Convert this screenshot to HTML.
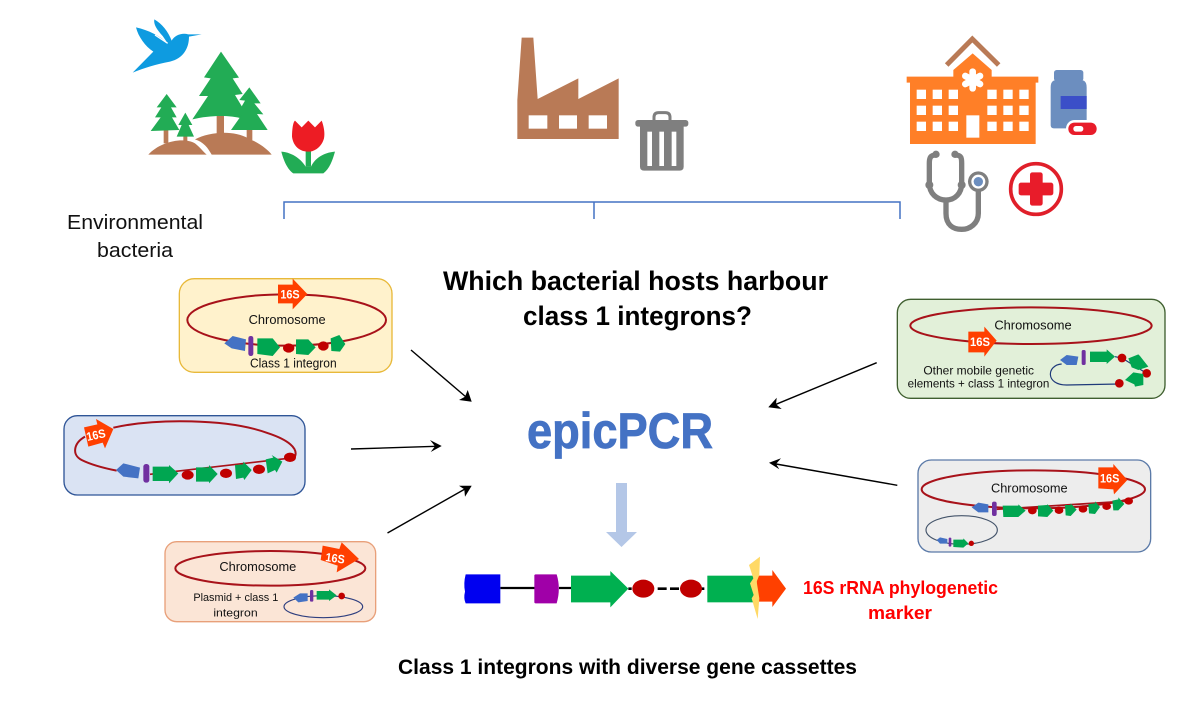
<!DOCTYPE html>
<html><head><meta charset="utf-8"><style>
html,body{margin:0;padding:0;background:#fff}
svg{display:block}
text{font-family:"Liberation Sans",sans-serif}
.c{font-size:38px;fill:#111}
.s{font-size:36px;font-weight:bold;fill:#fff}
.b{fill:#4472C4}.p{fill:#7030A0}.g{fill:#00A651}.r{fill:#C00000}.o{fill:#FF3F00}
.l{fill:none;stroke:#A8121A;stroke-width:6}
</style></head><body>
<svg width="1200" height="705" viewBox="0 0 1200 705" xmlns="http://www.w3.org/2000/svg">
<rect width="1200" height="705" fill="#fff"/>

<!-- nature -->
<g transform="translate(120,10) scale(.33333)">
<path fill="#0E9BE0" d="M38,188 L100,125 C75,108 55,80 48,52 C85,60 120,78 143,100 L128,78 C110,58 100,42 103,28 C125,40 145,65 155,92 C165,75 185,68 205,73 L245,73 L207,80 C207,115 190,145 150,155 C110,162 70,175 38,188 Z"/>
<path fill="none" stroke="#fff" stroke-width="4" d="M105,75 L143,100"/>
<g fill="#B97A56">
<rect x="290" y="315" width="22" height="60"/><rect x="380" y="355" width="17" height="35"/><rect x="131" y="358" width="14" height="42"/><rect x="190" y="376" width="12" height="18"/>
<path d="M85,434 C120,395 190,380 225,400 C240,412 250,425 260,434Z"/>
<path d="M225,388 C270,365 340,360 385,385 C420,400 445,420 455,434 L275,434 C265,415 250,395 225,388Z"/>
</g>
<g fill="#22AC55">
<path d="M303,125 L252,202 L272,205 L237,258 L264,258 L217,328 C270,315 330,315 365,325 L372,300 L345,255 L368,252 L338,205 L357,203Z"/>
<path d="M388,232 L358,270 L375,272 L352,312 L367,312 L333,360 L443,360 L411,312 L430,313 L403,280 L422,280Z"/>
<path d="M140,252 L110,292 L124,292 L105,322 L122,322 L92,363 L178,360 L156,322 L170,322 L153,292 L170,292Z"/>
<path d="M196,308 L175,345 L185,345 L170,380 L222,380 L206,345 L217,345Z"/>
<rect x="557" y="420" width="16" height="50"/>
<path d="M484,425 C520,428 545,450 557,470 L573,470 C585,445 610,428 645,425 C638,450 628,478 610,490 L520,490 C503,480 490,450 484,425Z"/>
</g>
<path fill="#ED1C24" d="M516,380 C516,355 520,335 525,332 L545,352 L565,332 L585,352 L605,332 C612,350 615,370 612,385 C605,410 585,425 565,425 C540,425 520,410 516,380Z"/>
</g>

<!-- factory -->
<g transform="translate(505,30) scale(.33333)">
<path fill="#B97A56" d="M37,327 L37,210 L50,23 L85,23 L98,207 L220,145 L220,207 L341,145 L341,327Z"/>
<g fill="#fff"><rect x="71" y="256" width="56" height="40"/><rect x="162" y="256" width="54" height="40"/><rect x="251" y="256" width="55" height="40"/></g>
<g fill="#7F7F7F">
<path fill="none" stroke="#7F7F7F" stroke-width="9" d="M447,272 L447,262 Q447,248 461,248 L481,248 Q495,248 495,262 L495,272"/>
<rect x="391" y="270" width="159" height="20" rx="8"/>
<path d="M405,288 H536 V410 Q536,422 524,422 H417 Q405,422 405,410Z"/>
</g>
<g fill="#fff"><rect x="427" y="305" width="14" height="103"/><rect x="463" y="305" width="14" height="103"/><rect x="500" y="305" width="14" height="103"/></g>
</g>

<!-- hospital -->
<g transform="translate(890,30) scale(.33333)">
<path fill="none" stroke="#B97A56" stroke-width="15" d="M170,105 L247,27 L326,105"/>
<path fill="#FF7F27" d="M60,342 V158 H50 V140 H190 V120 L248,70 L305,120 V140 H445 V158 H437 V342Z"/>
<g stroke="#fff" stroke-width="20" stroke-linecap="round"><path d="M248,125 V175"/><path d="M226,138 L270,162"/><path d="M270,138 L226,162"/></g>
<g fill="#fff">
<rect x="80" y="179" width="28" height="28"/><rect x="128" y="179" width="28" height="28"/><rect x="176" y="179" width="28" height="28"/><rect x="292" y="179" width="28" height="28"/><rect x="340" y="179" width="28" height="28"/><rect x="388" y="179" width="28" height="28"/>
<rect x="80" y="227" width="28" height="28"/><rect x="128" y="227" width="28" height="28"/><rect x="176" y="227" width="28" height="28"/><rect x="292" y="227" width="28" height="28"/><rect x="340" y="227" width="28" height="28"/><rect x="388" y="227" width="28" height="28"/>
<rect x="80" y="275" width="28" height="28"/><rect x="128" y="275" width="28" height="28"/><rect x="176" y="275" width="28" height="28"/><rect x="292" y="275" width="28" height="28"/><rect x="340" y="275" width="28" height="28"/><rect x="388" y="275" width="28" height="28"/>
<rect x="229" y="256" width="39" height="67"/>
</g>
<rect x="492" y="120" width="88" height="34" rx="8" fill="#6C8EBF"/>
<path fill="#6C8EBF" d="M482,172 Q482,150 500,150 H572 Q590,150 590,172 V295 H492 Q482,295 482,285Z"/>
<rect x="512" y="198" width="78" height="39" fill="#3B4FC8"/>
<rect x="528" y="270" width="100" height="53" rx="26" fill="#fff"/>
<rect x="535" y="278" width="85" height="37" rx="18" fill="#E81C2A"/>
<rect x="550" y="288" width="30" height="17" rx="8" fill="#fff"/>
<g fill="none" stroke="#7F7F7F" stroke-width="16">
<path d="M138,375 C120,375 118,385 118,400 L118,460 C118,490 140,510 168,510 C195,510 215,490 215,460 L215,400 C215,385 215,375 195,375"/>
<path d="M168,510 V550 C168,585 190,598 215,598 C240,598 265,580 265,550 V480"/>
</g>
<g fill="#7F7F7F"><circle cx="138" cy="373" r="11"/><circle cx="195" cy="373" r="11"/><circle cx="118" cy="465" r="12"/><circle cx="215" cy="465" r="12"/><circle cx="265" cy="455" r="31"/></g>
<circle cx="265" cy="455" r="21" fill="#fff"/><circle cx="265" cy="455" r="14" fill="#6C8EBF"/>
<circle cx="438" cy="477" r="76" fill="#fff" stroke="#E01F2A" stroke-width="11"/>
<g fill="#E81C2A"><rect x="420" y="427" width="38" height="100" rx="7"/><rect x="386" y="458" width="104" height="38" rx="7"/></g>
</g>

<!-- bracket -->
<path fill="none" stroke="#4472C4" stroke-width="1.5" d="M284,219 V202 H900 V219 M594,202 V219"/>

<!-- main text -->
<text x="67" y="229" font-size="20" fill="#111" textLength="136" lengthAdjust="spacingAndGlyphs">Environmental</text>
<text x="97" y="257" font-size="20" fill="#111" textLength="76" lengthAdjust="spacingAndGlyphs">bacteria</text>
<text x="443" y="290" font-size="27" font-weight="bold" fill="#000" textLength="385" lengthAdjust="spacingAndGlyphs">Which bacterial hosts harbour</text>
<text x="523" y="325" font-size="27" font-weight="bold" fill="#000" textLength="229" lengthAdjust="spacingAndGlyphs">class 1 integrons?</text>
<text x="527" y="448" font-size="50" font-weight="bold" fill="#4472C4" stroke="#4472C4" stroke-width=".8" textLength="186" lengthAdjust="spacingAndGlyphs">epicPCR</text>
<text x="803" y="594" font-size="18" font-weight="bold" fill="#FF0000" textLength="195" lengthAdjust="spacingAndGlyphs">16S rRNA phylogenetic</text>
<text x="868" y="619" font-size="18" font-weight="bold" fill="#FF0000" textLength="64" lengthAdjust="spacingAndGlyphs">marker</text>
<text x="398" y="674" font-size="21" font-weight="bold" fill="#000" textLength="459" lengthAdjust="spacingAndGlyphs">Class 1 integrons with diverse gene cassettes</text>

<!-- arrows -->
<g stroke="#000" stroke-width="1.4" fill="none">
<path d="M411,350 L466,397"/><path d="M351,449 L436,446.3"/><path d="M387.5,533 L465,489"/><path d="M876.7,362.7 L776,404.3"/><path d="M897.3,485.3 L776,464"/>
</g>
<g fill="#000">
<path d="M471.7,401.7 L459,400 L465,396.7 L467.7,390Z"/>
<path d="M441.7,446 L430,440 L435,446.3 L430.7,452Z"/>
<path d="M471.7,485.7 L459,485.7 L464.3,489.3 L465,496.7Z"/>
<path d="M768.3,407.3 L776.7,397.7 L776,404.3 L781.7,409Z"/>
<path d="M769,462.7 L781,458.3 L776,464 L779.3,469.3Z"/>
</g>
<path fill="#B4C7E7" d="M616,483 H627 V532 H637 L621.5,547 L606,532 H616Z"/>

<!-- box 1 -->
<g transform="translate(170,270) scale(.33333)">
<rect x="28" y="26" width="638" height="281" rx="45" fill="#FFF2CC" stroke="#E8B93A" stroke-width="4"/>
<ellipse cx="350" cy="150" rx="298" ry="77" class="l"/>
<path class="o" d="M324,44 H368 V26 L412,72 L368,118 V100 H324Z"/>
<text x="331" y="85" class="s" textLength="58" lengthAdjust="spacingAndGlyphs">16S</text>
<text x="236" y="162" class="c" textLength="231" lengthAdjust="spacingAndGlyphs">Chromosome</text>
<path class="b" d="M163,220 L188,198 L228,208 L225,243 L185,235Z"/>
<rect x="235" y="198" width="15" height="60" rx="7" class="p"/>
<path class="g" d="M262,205 H308 L330,232 L308,258 L262,252Z"/>
<ellipse cx="356" cy="234" rx="17" ry="14" class="r"/>
<path class="g" d="M378,208 H415 L437,232 L415,255 L378,252Z"/>
<ellipse cx="460" cy="228" rx="16" ry="14" class="r"/>
<path class="g" d="M482,205 L508,195 L526,222 L510,245 L484,243Z"/>
<text x="240" y="292" class="c" textLength="260" lengthAdjust="spacingAndGlyphs">Class 1 integron</text>
</g>

<!-- box 2 -->
<g transform="translate(55,405) scale(.33333)">
<rect x="27" y="32" width="723" height="238" rx="40" fill="#DAE3F3" stroke="#2F5597" stroke-width="4"/>
<path class="l" d="M175,68 C300,40 520,40 640,85 C700,105 730,130 720,155"/>
<path class="l" d="M90,95 C55,115 50,150 80,165 C110,180 150,190 185,197"/>
<path d="M285,208 L700,160" stroke="#A8121A" stroke-width="5" fill="none"/>
<path class="o" d="M87,67 L127,58 L123,42 L175,72 L150,130 L143,113 L100,125Z"/>
<text x="0" y="0" class="s" transform="translate(97,108) rotate(-12)" textLength="58" lengthAdjust="spacingAndGlyphs">16S</text>
<path class="b" d="M183,195 L205,175 L255,188 L250,220 L205,215Z"/>
<rect x="265" y="177" width="18" height="56" rx="8" class="p"/>
<path class="g" d="M293,185 H342 V180 L370,205 L342,235 V228 H293Z"/>
<ellipse cx="398" cy="210" rx="18" ry="14" class="r"/>
<path class="g" d="M423,187 H462 V180 L488,207 L462,235 V230 H423Z"/>
<ellipse cx="513" cy="205" rx="18" ry="14" class="r"/>
<path class="g" d="M540,180 L565,178 V170 L590,195 L568,225 L565,218 L543,222Z"/>
<ellipse cx="612" cy="193" rx="18" ry="14" class="r"/>
<path class="g" d="M632,163 L655,158 L650,150 L682,170 L665,203 L660,195 L638,205Z"/>
<ellipse cx="705" cy="157" rx="18" ry="14" class="r"/>
</g>

<!-- box 3 -->
<g transform="translate(155,535) scale(.33333)">
<rect x="30" y="20" width="632" height="240" rx="35" fill="#FBE5D6" stroke="#E8A07A" stroke-width="4"/>
<ellipse cx="346" cy="100" rx="285" ry="52" class="l"/>
<path class="o" d="M503,32 L553,42 L560,22 L612,72 L545,112 L548,92 L497,75Z"/>
<text x="0" y="0" class="s" transform="translate(510,78) rotate(8)" textLength="58" lengthAdjust="spacingAndGlyphs">16S</text>
<text x="193" y="108" class="c" textLength="231" lengthAdjust="spacingAndGlyphs">Chromosome</text>
<text x="115" y="198" class="c" style="font-size:34px" textLength="255" lengthAdjust="spacingAndGlyphs">Plasmid + class 1</text>
<text x="175" y="245" class="c" style="font-size:34px" textLength="133" lengthAdjust="spacingAndGlyphs">integron</text>
<ellipse cx="505" cy="215" rx="118" ry="33" fill="none" stroke="#2F3F7F" stroke-width="3.5"/>
<path class="b" d="M415,188 L435,175 H458 V198 L430,202Z"/>
<rect x="465" y="165" width="10" height="35" rx="4" class="p"/>
<path class="g" d="M485,168 H522 V163 L545,181 L522,198 V194 H485Z"/>
<circle cx="560" cy="183" r="10" class="r"/>
</g>

<!-- box 4 -->
<g transform="translate(890,290) scale(.33333)">
<rect x="22" y="28" width="803" height="297" rx="40" fill="#E2F0D9" stroke="#3F5F2F" stroke-width="4"/>
<ellipse cx="423" cy="107" rx="362" ry="55" class="l"/>
<path class="o" d="M235,125 H283 V110 L320,152 L283,200 V187 H235Z"/>
<text x="240" y="168" class="s" textLength="60" lengthAdjust="spacingAndGlyphs">16S</text>
<text x="313" y="118" class="c" textLength="232" lengthAdjust="spacingAndGlyphs">Chromosome</text>
<text x="100" y="253" class="c" style="font-size:35px" textLength="332" lengthAdjust="spacingAndGlyphs">Other mobile genetic</text>
<text x="53" y="293" class="c" style="font-size:35px" textLength="425" lengthAdjust="spacingAndGlyphs">elements + class 1 integron</text>
<path fill="none" stroke="#1F3A7A" stroke-width="3.5" d="M515,222 C470,225 465,285 530,285 L688,282"/>
<path fill="none" stroke="#1F3A7A" stroke-width="3.5" d="M675,200 L696,204 L770,250"/>
<path class="b" d="M510,210 L530,195 L565,200 L560,225 L530,225Z"/>
<rect x="575" y="180" width="12" height="45" rx="5" class="p"/>
<path class="g" d="M600,185 H650 V178 L675,200 L650,222 V216 H600Z"/>
<circle cx="696" cy="204" r="13" class="r"/>
<path class="g" d="M715,205 L745,193 L750,198 L775,230 L745,240 L725,232Z"/>
<circle cx="770" cy="250" r="13" class="r"/>
<path class="g" d="M705,270 L730,247 L760,252 L760,285 L735,290 L733,283Z"/>
<circle cx="688" cy="280" r="13" class="r"/>
</g>

<!-- box 5 -->
<g transform="translate(910,455) scale(.33333)">
<rect x="24" y="15" width="698" height="276" rx="40" fill="#EDEDED" stroke="#5B7AA8" stroke-width="4"/>
<ellipse cx="370" cy="103" rx="335" ry="57" class="l"/>
<path d="M260,163 L656,138" stroke="#A8121A" stroke-width="5" fill="none"/>
<ellipse cx="155" cy="225" rx="107" ry="43" fill="none" stroke="#44546A" stroke-width="3.5"/>
<text x="243" y="112" class="c" textLength="230" lengthAdjust="spacingAndGlyphs">Chromosome</text>
<path class="o" d="M565,37 H610 V27 L652,75 L612,118 L610,103 L565,100Z"/>
<text x="570" y="83" class="s" textLength="58" lengthAdjust="spacingAndGlyphs">16S</text>
<path class="b" d="M185,157 L205,143 L235,148 V172 H205Z"/>
<rect x="246" y="140" width="14" height="43" rx="6" class="p"/>
<path class="g" d="M278,152 H325 V148 L347,167 L325,186 H280Z"/>
<ellipse cx="367" cy="167" rx="13" ry="11" class="r"/>
<path class="g" d="M384,152 L412,150 V147 L430,167 L412,186 L384,184Z"/>
<ellipse cx="447" cy="166" rx="13" ry="11" class="r"/>
<path class="g" d="M465,150 H482 V145 L500,164 L482,183 L467,181Z"/>
<ellipse cx="519" cy="162" rx="13" ry="11" class="r"/>
<path class="g" d="M535,147 L555,145 V139 L570,156 L555,177 L537,175Z"/>
<ellipse cx="590" cy="154" rx="13" ry="11" class="r"/>
<path class="g" d="M607,137 L625,133 V127 L643,147 L625,166 L610,166Z"/>
<ellipse cx="656" cy="138" rx="13" ry="11" class="r"/>
<path class="b" d="M80,255 L90,247 L112,252 V266 H90Z"/>
<rect x="116" y="248" width="8" height="27" rx="3" class="p"/>
<path class="g" d="M130,254 H160 V250 L175,265 L160,278 L130,276Z"/>
<circle cx="184" cy="265" r="8" class="r"/>
</g>

<!-- bottom construct -->
<g transform="translate(455,545) scale(.33333)">
<path d="M136,129 H240 M312,129 H348" stroke="#000" stroke-width="7" fill="none"/>
<path d="M520,131 H530 M608,131 H635 M645,131 H672 M738,131 H748" stroke="#000" stroke-width="8" fill="none"/>
<path fill="#0000F0" d="M32,88 H136 V175 H32 Q25,160 30,140 Q25,115 32,88Z"/>
<path fill="#A000A8" d="M238,92 Q238,88 242,88 H305 Q318,130 305,175 H242 Q238,175 238,171Z"/>
<path fill="#00B050" d="M348,92 H466 V78 L520,131 L466,187 V172 H348Z"/>
<ellipse cx="565" cy="131" rx="33" ry="27" fill="#C00000"/>
<ellipse cx="708" cy="131" rx="33" ry="27" fill="#C00000"/>
<rect x="757" y="92" width="145" height="80" fill="#00B050"/>
<path fill="#FF4000" d="M905,92 H952 V75 L993,131 L952,186 V170 H905Z"/>
<path fill="#FFD966" d="M882,60 L915,35 L913,90 L905,110 L913,160 L908,222 L890,160 L896,150 L885,115 L895,100Z"/>
</g>
</svg>
</body></html>
